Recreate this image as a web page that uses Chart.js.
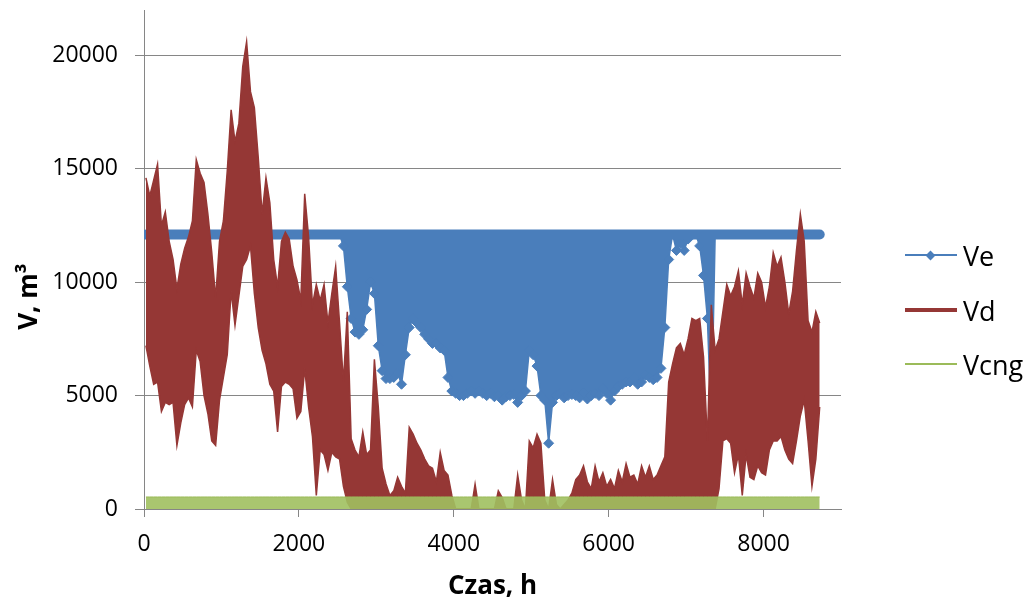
<!DOCTYPE html>
<html lang="pl">
<head>
<meta charset="UTF-8">
<title>V, m3 - Czas, h</title>
<script src="https://cdn.jsdelivr.net/npm/chart.js"></script>
<style>
  body { margin: 0; background: #fff; }
  #wrap { position: relative; width: 1033px; height: 606px; }
  #legend { position: absolute; left: 905px; top: 0; font-family: 'Open Sans', sans-serif; font-size: 27px; color: #000; }
  .key { position: absolute; left: 0; height: 32px; margin-top: -16px; display: flex; align-items: center; white-space: nowrap; }
  .swatch { position: relative; width: 52px; margin-right: 6px; }
  .dot { position: absolute; left: 22px; top: 50%; width: 7px; height: 7px; margin-top: -3.5px; transform: rotate(45deg); }
</style>
</head>
<body>
<div id="wrap">
  <canvas id="chart" width="1033" height="606"></canvas>
  <div id="legend"></div>
</div>
<script>
  // hourly series in 50 h bins: peak and trough of each bin
  const BIN_HOURS = 50;
  const seriesNames = ['Ve', 'Vd', 'Vcng'];
  const xTicks = [0, 2000, 4000, 6000, 8000];
  const yTicks = [0, 5000, 10000, 15000, 20000];

  const vdHigh = [
    14600, 13800, 14500, 15200, 12500, 13100, 11800, 11000, 9700, 10800,
    11500, 12000, 12700, 15400, 14800, 14400, 13000, 11300, 9300, 11800,
    12700, 14900, 17600, 16200, 17000, 19500, 20600, 18400, 17700, 15500,
    13000, 14600, 13500, 11000, 9800, 11800, 12200, 11900, 10700, 10100,
    9200, 13900, 12000, 9000, 9900, 9200, 9900, 8200, 9500, 10700,
    8200, 5600, 8700, 3100, 2600, 2300, 3400, 2400, 2600, 6600,
    4500, 1800, 1100, 600, 800, 1400, 1000, 700, 3600, 3300,
    2900, 2600, 2200, 1900, 1800, 1200, 2500, 1700, 1500, 600,
    0, 0, 0, 0, 0, 1100, 0, 0, 0, 0,
    0, 800, 500, 0, 0, 0, 1500, 400, 0, 3000,
    2700, 3300, 2900, 400, 0, 1300, 200, 0, 200, 400,
    700, 1300, 1500, 1900, 1200, 900, 1900, 1200, 1600, 1000,
    1300, 900, 1700, 1200, 2000, 1400, 1500, 1100, 1900, 1400,
    1900, 1300, 1500, 1900, 2300, 5600, 6400, 7100, 7300, 6800,
    7500, 8400, 8300, 8400, 6700, 3000, 9000, 7000, 7500, 8700,
    9900, 9400, 9800, 10500, 9000, 10400, 9800, 9300, 10400, 10000,
    8900, 9800, 11300, 10700, 11100, 10000, 8600, 9600, 11400, 13000,
    11800, 8300, 7800, 8700, 8200
  ];
  const vdLow = [
    7200, 6300, 5500, 5600, 4300, 4700, 4600, 4700, 2800, 3800,
    4600, 4900, 4500, 7000, 6500, 5000, 4200, 3000, 2800, 4800,
    5800, 6800, 9600, 8100, 9400, 10700, 11000, 11600, 9500, 8000,
    7000, 6400, 5500, 5200, 3400, 5400, 5600, 5500, 5300, 4000,
    4300, 6200, 4500, 3200, 600, 2600, 2400, 1700, 2500, 2300,
    2200, 1000, 300, 0, 0, 0, 0, 0, 0, 0,
    0, 0, 0, 0, 0, 0, 0, 0, 0, 0,
    0, 0, 0, 0, 0, 0, 0, 0, 0, 0,
    0, 0, 0, 0, 0, 0, 0, 0, 0, 0,
    0, 0, 0, 0, 0, 0, 0, 0, 0, 0,
    0, 0, 0, 0, 0, 0, 0, 0, 0, 0,
    0, 0, 0, 0, 0, 0, 0, 0, 0, 0,
    0, 0, 0, 0, 0, 0, 0, 0, 0, 0,
    0, 0, 0, 0, 0, 0, 0, 0, 0, 0,
    0, 0, 0, 0, 0, 0, 0, 0, 900, 3000,
    3100, 2900, 1600, 2400, 600, 2400, 1400, 1300, 1900, 1600,
    1500, 2600, 3000, 3000, 3200, 2600, 2200, 2000, 3000, 4100,
    4800, 3000, 1000, 2200, 4500
  ];

  // Ve sits at its ceiling, dipping only in summer
  const VE_MAX = 12100;
  const veLow = [
    12100, 12100, 12100, 12100, 12100, 12100, 12100, 12100, 12100, 12100,
    12100, 12100, 12100, 12100, 12100, 12100, 12100, 12100, 12100, 12100,
    12100, 12100, 12100, 12100, 12100, 12100, 12100, 12100, 12100, 12100,
    12100, 12100, 12100, 12100, 12100, 12100, 12100, 12100, 12100, 12100,
    12100, 12100, 12100, 12100, 12100, 12100, 12100, 12100, 12100, 12100,
    12100, 11600, 9800, 8400, 7800, 7700, 7900, 8800, 10000, 9500,
    7200, 6100, 5750, 5750, 5800, 6000, 5500, 6800, 8000, 8400,
    8200, 8000, 7700, 7500, 7300, 7300, 7100, 7000, 5800, 5200,
    5100, 5000, 5000, 5100, 5200, 5100, 5200, 5100, 5000, 5100,
    4950, 5000, 4800, 4950, 5000, 5050, 4700, 5000, 5200, 7000,
    6800, 6300, 5000, 4800, 2900, 4700, 5000, 5100, 4900, 5000,
    5050, 5000, 4900, 5100, 4850, 5000, 5100, 5000, 5300, 5100,
    4800, 5200, 5400, 5500, 5600, 5600, 5800, 5500, 5600, 5900,
    5800, 5700, 5800, 6200, 8000, 11000, 12100, 11400, 11700, 11400,
    11900, 12100, 12100, 11600, 10300, 8400, 3600, 12100, 12100, 12100,
    12100, 12100, 12100, 12100, 12100, 12100, 12100, 12100, 12100, 12100,
    12100, 12100, 12100, 12100, 12100, 12100, 12100, 12100, 12100, 12100,
    12100, 12100, 12100, 12100, 12100
  ];

  // Vcng switches between off and its rated output all year
  const VCNG_ON = 530;

  const BLUE = '#4A7EBB';
  const RED = '#953735';
  const GREEN = '#9BBB59';
  const AXIS_GREY = '#868686';
  const FONT = "'Open Sans', sans-serif";

  const binX = vdHigh.map((_, k) => k * BIN_HOURS + BIN_HOURS / 2);
  const toPoints = vals => vals.map((v, k) => ({ x: binX[k], y: v }));
  const flat = v => binX.map(x => ({ x, y: v }));

  new Chart(document.getElementById('chart'), {
    type: 'line',
    data: {
      datasets: [
        // 0,1: Ve band between ceiling and hourly troughs;
        // the hourly markers at the ceiling merge into one thick bar
        { label: seriesNames[0], data: flat(VE_MAX), order: 3,
          borderColor: BLUE, borderWidth: 10, borderCapStyle: 'round', pointRadius: 0 },
        { label: seriesNames[0] + ' min', data: toPoints(veLow), order: 3,
          borderColor: BLUE, borderWidth: 1.5, fill: 0, backgroundColor: BLUE,
          pointStyle: 'rectRot', pointBorderWidth: 1,
          pointRadius: c => (c.raw && c.raw.y < VE_MAX ? 5 : 0),
          pointBackgroundColor: BLUE, pointBorderColor: BLUE },
        // 2,3: Vd band between hourly peaks and troughs
        { label: seriesNames[1], data: toPoints(vdHigh), order: 2,
          borderColor: RED, borderWidth: 1.5, pointRadius: 0 },
        { label: seriesNames[1] + ' min', data: toPoints(vdLow), order: 2,
          borderColor: RED, borderWidth: 1.5, pointRadius: 0, fill: 2, backgroundColor: RED },
        // 4: Vcng on/off band
        { label: seriesNames[2], data: flat(VCNG_ON), order: 1,
          borderColor: GREEN, borderWidth: 1, pointRadius: 0, fill: 'origin',
          backgroundColor: 'rgba(160,192,95,0.9)' }
      ]
    },
    options: {
      responsive: false,
      animation: false,
      events: [],
      layout: { padding: { top: 10, right: 192, bottom: 0, left: 0 } },
      plugins: { legend: { display: false }, tooltip: { enabled: false } },
      scales: {
        x: {
          type: 'linear', min: 0, max: 9000,
          afterBuildTicks: s => { s.ticks = xTicks.map(value => ({ value })); },
          ticks: { maxRotation: 0, padding: 14, callback: v => String(v),
                   color: '#000', font: { family: FONT, size: 23 } },
          grid: { drawOnChartArea: false, tickLength: 8, color: AXIS_GREY },
          border: { color: AXIS_GREY },
          title: { display: true, text: 'Czas, h', color: '#000', padding: { top: 0, bottom: 4 },
                   font: { family: FONT, size: 26, weight: 'bold' } },
          afterFit: s => { s.height = 97; s.paddingLeft = 0; s.paddingRight = 0; }
        },
        y: {
          min: 0, max: 22000,
          afterBuildTicks: s => { s.ticks = yTicks.map(value => ({ value })); },
          ticks: { padding: 17, callback: v => String(v),
                   color: '#000', font: { family: FONT, size: 23 } },
          grid: { tickLength: 9, color: AXIS_GREY },
          border: { color: AXIS_GREY },
          // trailing spaces push the label down the axis, where the original sits
          title: { display: true, text: 'V, m³' + '\u00a0'.repeat(11), color: '#000',
                   padding: { top: 14, bottom: 0 },
                   font: { family: FONT, size: 26, weight: 'bold' } },
          afterFit: s => { s.width = 144; s.paddingTop = 0; s.paddingBottom = 0; }
        }
      }
    }
  });

  // legend on the right, as in the original spreadsheet chart
  const legendRows = [
    { name: seriesNames[0], color: BLUE, thick: 2, marker: true, y: 255 },
    { name: seriesNames[1], color: RED, thick: 4, marker: false, y: 310 },
    { name: seriesNames[2], color: GREEN, thick: 1.5, marker: false, y: 364 }
  ];
  const legend = document.getElementById('legend');
  legendRows.forEach(r => {
    const row = document.createElement('div');
    row.className = 'key';
    row.style.top = r.y + 'px';
    const sw = document.createElement('span');
    sw.className = 'swatch';
    sw.style.height = r.thick + 'px';
    sw.style.background = r.color;
    if (r.marker) {
      const d = document.createElement('i');
      d.className = 'dot';
      d.style.background = r.color;
      sw.appendChild(d);
    }
    const txt = document.createElement('span');
    txt.textContent = r.name;
    row.appendChild(sw);
    row.appendChild(txt);
    legend.appendChild(row);
  });
</script>
</body>
</html>
